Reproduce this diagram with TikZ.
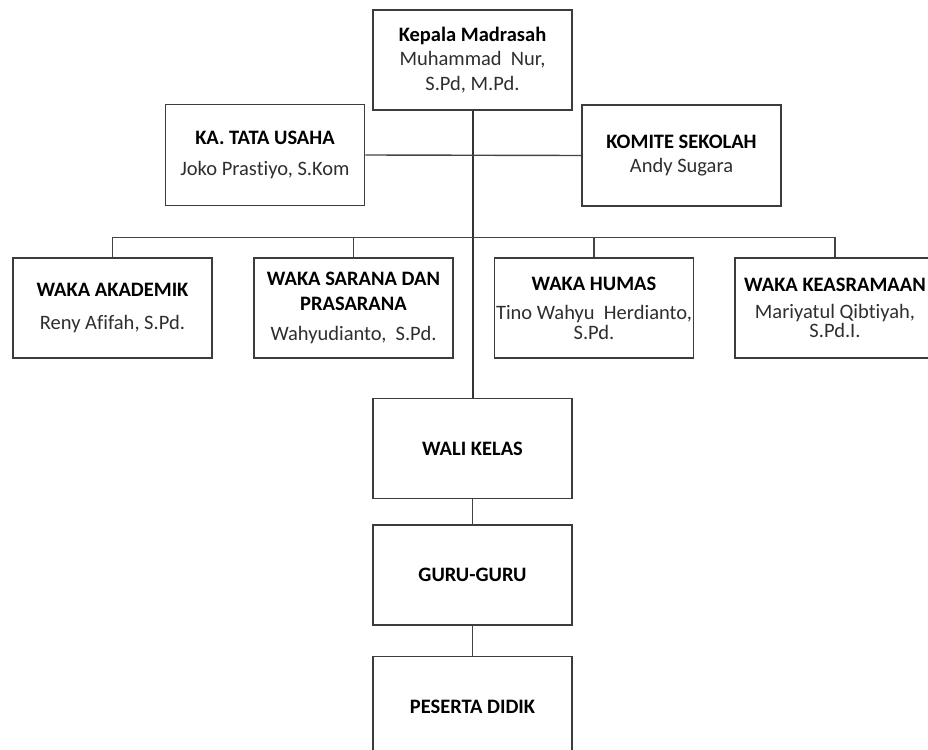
\documentclass[tikz,border=0pt]{standalone}
\usepackage{fontspec}
\setmainfont[Ligatures=NoCommon]{Carlito}
\usepackage{xcolor}
\usetikzlibrary{positioning}

\definecolor{boxline}{HTML}{3C3C3C}
\definecolor{linkline}{HTML}{444444}
\definecolor{nametext}{HTML}{2E2E2E}

\newcommand{\jabatan}[1]{{\bfseries\color{black}#1}}

\begin{document}
\begin{tikzpicture}[x=1pt, y=-1pt, node distance=25pt,
  unit/.style={draw=boxline, line width=1.5pt, minimum width=199pt,
    minimum height=100pt, inner sep=0pt, align=center, text=nametext,
    font=\fontsize{20.5}{24.6}\selectfont},
  link/.style={draw=linkline, line width=1.4pt},
  trunk/.style={draw=black!80, line width=2pt}]
\useasboundingbox (0,0) rectangle (928,749);
\clip (0,0) rectangle (928,749);

\node[unit] (kepala) at (472.5,60) {\jabatan{Kepala Madrasah}\\Muhammad~ Nur,\\S.Pd, M.Pd.};
\node[unit, minimum height=101pt] (tu) at (265,155) {\jabatan{KA. TATA USAHA}\\[7pt]Joko Prastiyo, S.Kom};
\node[unit, minimum height=101pt] (komite) at (681.5,155.5) {\jabatan{KOMITE SEKOLAH}\\Andy Sugara};

\node[unit] (akademik) at (112.5,308) {\jabatan{WAKA AKADEMIK}\\[8pt]Reny Afifah, S.Pd.};
\node[unit] (sarana) at (353.5,308) {\jabatan{WAKA SARANA DAN}\\\jabatan{PRASARANA}\\[6pt]Wahyudianto,~ S.Pd.};
\node[unit] (humas) at (594,308) {\jabatan{WAKA HUMAS}\\[5pt]Tino Wahyu~ Herdianto,\\[-5pt]S.Pd.};
\node[unit, minimum width=200pt] (asrama) at (835,308) {\jabatan{WAKA KEASRAMAAN}\\[2pt]Mariyatul Qibtiyah,\\[-5pt]S.Pd.I.};

\node[unit] (wali) at (472.5,448.5) {\jabatan{WALI KELAS}};
\node[unit, below=of wali] (guru) {\jabatan{GURU-GURU}};
\node[unit, below=30pt of guru] (peserta) {\jabatan{PESERTA DIDIK}};

\draw[trunk] (kepala.south) -- (wali.north);
\draw[link] (tu.east) -- (komite.west);
\draw[link] ([yshift=20pt]akademik.north) -- ([yshift=20pt]asrama.north);
\foreach \n in {akademik,sarana,humas,asrama}
  \draw[link] (\n.north) -- ([yshift=20pt]\n.north);
\draw[link] (wali) -- (guru);
\draw[link] (guru) -- (peserta);
\end{tikzpicture}
\end{document}
